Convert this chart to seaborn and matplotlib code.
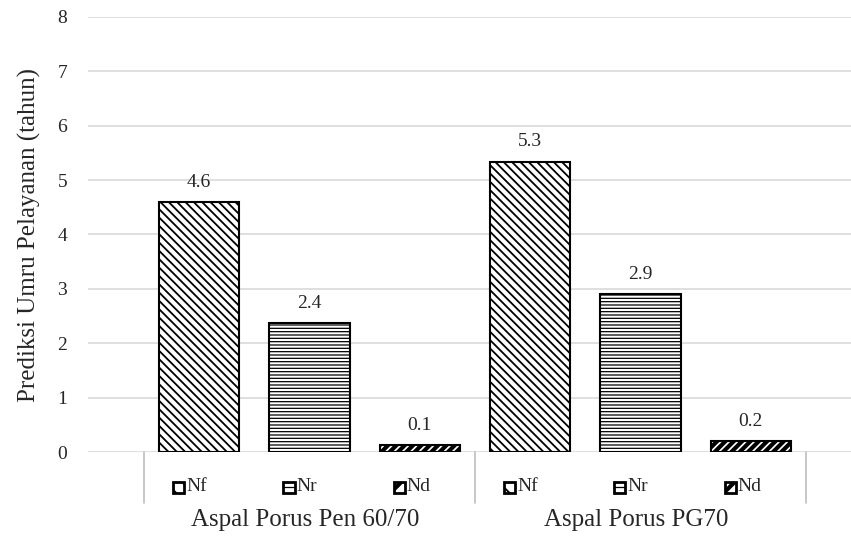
import matplotlib
matplotlib.use("Agg")
import matplotlib.pyplot as plt
import matplotlib.transforms as mtransforms
from matplotlib.patches import Rectangle
from matplotlib.lines import Line2D
import seaborn as sns
import pandas as pd

# ---- data ----
groups = ["Aspal Porus Pen 60/70", "Aspal Porus PG70"]
params = ["Nf", "Nr", "Nd"]
pen_values = [4.60, 2.37, 0.13]
pg70_values = [5.34, 2.91, 0.20]
y_ticks = [0, 1, 2, 3, 4, 5, 6, 7, 8]
y_label = "Prediksi Umru Pelayanan (tahun)"

hatches = {"Nf": "\\\\\\\\", "Nr": "-----", "Nd": "////"}
hatch_lw = {"Nf": 1.3, "Nr": 0.9, "Nd": 3.0}

sns.set_style("white")
SERIF = ["Liberation Serif", "DejaVu Serif"]
plt.rcParams["font.family"] = "serif"
plt.rcParams["font.serif"] = SERIF
plt.rcParams["hatch.linewidth"] = 1.3
TXT = "#262626"

rows = []
for g, vals in zip(groups, [pen_values, pg70_values]):
    for p, v in zip(params, vals):
        rows.append({"key": f"{g}|{p}", "group": g, "param": p, "value": v})
df = pd.DataFrame(rows)

fig = plt.figure(figsize=(8.51, 5.48), dpi=100)
ax = fig.add_axes([88 / 851, (548 - 452.3) / 548, 1 - 88 / 851, (452.3 - 16.7) / 548])

sns.barplot(data=df, x="key", y="value", order=list(df["key"]), color="white",
            edgecolor="black", linewidth=1.5, width=0.73, errorbar=None,
            saturation=1, ax=ax, zorder=3)

for patch, p in zip(ax.patches, df["param"]):
    patch.set_facecolor("white")
    patch.set_hatch(hatches[p])
    if hasattr(patch, "set_hatch_linewidth"):
        patch.set_hatch_linewidth(hatch_lw[p])

ax.bar_label(ax.containers[0], labels=[f"{v:.1f}" for v in df["value"]],
             padding=8, fontsize=14, color=TXT, family=SERIF)

n = len(df)
ax.set_xlim(-1.008, n - 0.5 + 0.408)
ax.set_ylim(y_ticks[0], y_ticks[-1])
ax.set_yticks(y_ticks)
ax.set_yticklabels([str(t) for t in y_ticks], family=SERIF)
ax.tick_params(axis="y", length=0, pad=15, labelsize=14, labelcolor=TXT)
ax.set_xticks([])
ax.set_xlabel("")
ax.set_ylabel(y_label, fontsize=18, color=TXT, labelpad=12, family=SERIF)
ax.yaxis.grid(True, color="#d9d9d9", linewidth=1.2)
ax.set_axisbelow(True)
for s in ax.spines.values():
    s.set_visible(False)

# category axis (multi-level)
trans = mtransforms.blended_transform_factory(ax.transData, ax.transAxes)
sep_positions = [-0.5] + [len(params) * (i + 1) - 0.5 for i in range(len(groups))]
for xs in sep_positions:
    ax.add_line(Line2D([xs, xs], [0, -0.116], transform=trans, color="#bfbfbf",
                       linewidth=1.2, clip_on=False))

for i, (p, g) in enumerate(zip(df["param"], df["group"])):
    r = Rectangle((i - 0.236, -0.0925), 0.1, 0.0253, transform=trans,
                  facecolor="white", edgecolor="black", linewidth=2.0,
                  hatch=hatches[p][:2], clip_on=False)
    if hasattr(r, "set_hatch_linewidth"):
        r.set_hatch_linewidth(hatch_lw[p])
    ax.add_patch(r)
    ax.text(i - 0.118, -0.079, p, transform=trans, ha="left", va="center",
            fontsize=14, color=TXT, family=SERIF)

for gi, g in enumerate(groups):
    center = gi * len(params) + (len(params) - 1) / 2
    ax.text(center - 0.04, -0.155, g, transform=trans, ha="center", va="center",
            fontsize=18, color=TXT, family=SERIF)

fig.savefig("out.png", dpi=100)
